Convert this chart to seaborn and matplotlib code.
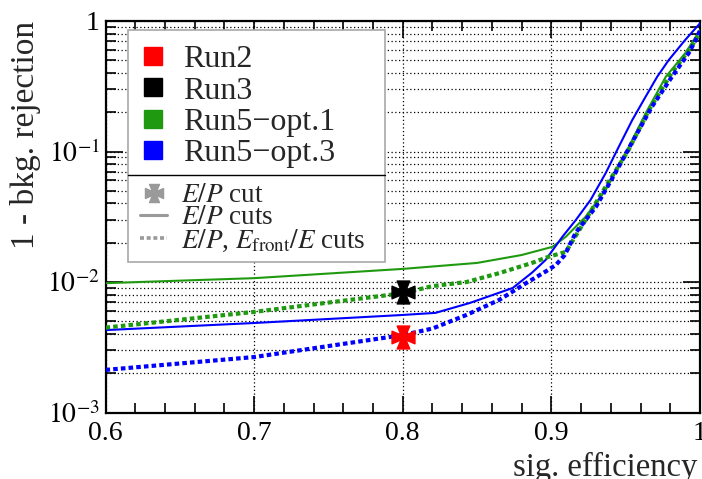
import numpy as np
import pandas as pd
import matplotlib
matplotlib.use("Agg")
import matplotlib.pyplot as plt
import seaborn as sns
from matplotlib.path import Path
from matplotlib.lines import Line2D
from matplotlib.patches import Rectangle
from matplotlib.ticker import MultipleLocator, LogLocator, FixedLocator, FixedFormatter, NullFormatter

# ---------------- data ----------------
opt1_cuts_x = [0.60, 0.70, 0.80, 0.85, 0.88, 0.9007, 0.9097, 0.923, 0.9365, 0.950, 0.9634, 0.977, 0.990, 1.0]
opt1_cuts_y = [0.0098, 0.0107, 0.0126, 0.0140, 0.0161, 0.0186, 0.0222, 0.0316, 0.0507, 0.097, 0.196, 0.374, 0.565, 0.85]

opt3_cuts_x = [0.60, 0.70, 0.80, 0.822, 0.845, 0.874, 0.887, 0.896, 0.9074, 0.9164, 0.9264, 0.9365, 0.9454, 0.9544, 0.9634, 0.9712, 0.979, 0.990, 1.0]
opt3_cuts_y = [0.00428, 0.00485, 0.00559, 0.0058, 0.0069, 0.0090, 0.0118, 0.0147, 0.0222, 0.0298, 0.0426, 0.0682, 0.109, 0.174, 0.263, 0.374, 0.503, 0.715, 0.96]

opt1_front_x = [0.60, 0.70, 0.80, 0.82, 0.843, 0.865, 0.887, 0.898, 0.9097, 0.923, 0.9365, 0.952, 0.9656, 0.981, 0.994, 1.0]
opt1_front_y = [0.00447, 0.0059, 0.0082, 0.0093, 0.0100, 0.0117, 0.0140, 0.0156, 0.0170, 0.0299, 0.0537, 0.103, 0.208, 0.40, 0.63, 0.81]

opt3_front_x = [0.60, 0.70, 0.80, 0.820, 0.843, 0.865, 0.883, 0.896, 0.903, 0.909, 0.9164, 0.930, 0.943, 0.954, 0.9676, 0.981, 0.9925, 0.998, 1.0]
opt3_front_y = [0.00212, 0.00266, 0.00392, 0.0044, 0.0056, 0.0073, 0.0098, 0.0120, 0.0135, 0.0161, 0.0239, 0.0377, 0.0684, 0.116, 0.22, 0.372, 0.57, 0.75, 0.85]

point_runs = ["Run2", "Run3"]
point_x = [0.80, 0.80]
point_y = [0.00381, 0.00843]

legend_runs = ["Run2", "Run3", "Run5\u2212opt.1", "Run5\u2212opt.3"]
legend_cuts = ["$E/P$ cut", "$E/P$ cuts", "$E/P$, $E_{\\mathrm{front}}/E$ cuts"]

x_ticks = [0.6, 0.7, 0.8, 0.9, 1.0]
x_tick_labels = ["0.6", "0.7", "0.8", "0.9", "1"]
y_ticks = [1e-3, 1e-2, 1e-1, 1.0]
y_tick_labels = ["$10^{-3}$", "$10^{-2}$", "$10^{-1}$", "1"]

# ---------------- style ----------------
sns.set_theme(style="ticks")
plt.rcParams["font.family"] = ["Liberation Serif", "DejaVu Serif"]
plt.rcParams["mathtext.fontset"] = "stix"

RED = "#ff0000"
BLACK = "#000000"
GREEN = "#1f9a10"
BLUE = "#0000ff"
GRAY = "#9a9a9a"

# Maltese-cross marker
a, b = 0.22, 0.55
cross_verts = [(-a, a), (-b, 1), (b, 1), (a, a), (1, b), (1, -b), (a, -a),
               (b, -1), (-b, -1), (-a, -a), (-1, -b), (-1, b), (-a, a)]
cross = Path(cross_verts, [Path.MOVETO] + [Path.LINETO] * 11 + [Path.CLOSEPOLY])

fig = plt.figure(figsize=(7.02, 4.79), dpi=100)
W, H = 702, 479
L, R, T, B = 105.5, 700, 21, 412.5
ax = fig.add_axes([L / W, (H - B) / H, (R - L) / W, (B - T) / H])
ax.set_facecolor("white")

dotted = (0, (1.1, 0.75))
series = [
    (opt1_cuts_x, opt1_cuts_y, GREEN, "-", 1.5),
    (opt3_cuts_x, opt3_cuts_y, BLUE, "-", 1.5),
    (opt1_front_x, opt1_front_y, GREEN, dotted, 3.0),
    (opt3_front_x, opt3_front_y, BLUE, dotted, 3.0),
]
for xs, ys, col, ls, lw in series:
    df = pd.DataFrame({"x": xs, "y": ys})
    sns.lineplot(data=df, x="x", y="y", ax=ax, color=col, linestyle=ls, linewidth=lw,
                 estimator=None, sort=False, zorder=3)

for name, px, py in zip(point_runs, point_x, point_y):
    col = RED if name == "Run2" else BLACK
    ax.plot([px], [py], marker=cross, markersize=16.5, color=col, linestyle="none", zorder=5)

ax.set_yscale("log")
ax.set_xlim(0.6, 1.0)
ax.set_ylim(1e-3, 1.0)

ax.xaxis.set_major_locator(FixedLocator(x_ticks))
ax.xaxis.set_major_formatter(FixedFormatter(x_tick_labels))
ax.xaxis.set_minor_locator(MultipleLocator(0.02))
ax.yaxis.set_major_locator(FixedLocator(y_ticks))
ax.yaxis.set_major_formatter(FixedFormatter(y_tick_labels))
ax.yaxis.set_minor_locator(LogLocator(base=10, subs=np.arange(2, 10)))
ax.yaxis.set_minor_formatter(NullFormatter())

gridstyle = dict(color="black", linestyle=(0, (1, 2)), linewidth=0.9)
ax.grid(True, axis="x", which="major", **gridstyle)
ax.grid(True, axis="y", which="both", **gridstyle)
ax.set_axisbelow(True)

ax.tick_params(which="both", direction="in", top=True, right=True, colors="black", width=1.2)
ax.tick_params(which="major", length=12, labelsize=20, pad=6)
ax.tick_params(which="minor", length=7)
ax.tick_params(axis="y", which="major", pad=4)
for s in ax.spines.values():
    s.set_linewidth(1.6)
    s.set_color("black")

ax.set_xlabel("sig. efficiency", fontsize=23.5, loc="right")
ax.xaxis.set_label_coords(0.995, -0.102)
ax.set_ylabel("1 - bkg. rejection", fontsize=24, loc="top")
ax.yaxis.set_label_coords(-0.108, 1.0)

# ---------------- legend ----------------
def fx(px):
    return (px - L) / (R - L)

def fy(py):
    return 1 - (py - T) / (B - T)

box = Rectangle((fx(128), fy(262)), fx(385) - fx(128), fy(30) - fy(262), transform=ax.transAxes,
                facecolor="white", edgecolor="#a8a8a8", linewidth=1.2, zorder=6)
ax.add_patch(box)
ax.plot([fx(128), fx(385)], [fy(175), fy(175)], transform=ax.transAxes, color="black",
        linewidth=1.0, zorder=7)

run_colors = [RED, BLACK, GREEN, BLUE]
run_handles = [Line2D([], [], marker="s", markersize=13, color=c, linestyle="none") for c in run_colors]
leg1 = ax.legend(run_handles, legend_runs, loc="upper left", bbox_to_anchor=(fx(137), fy(45)),
                 frameon=False, fontsize=23, handlelength=1.0, handletextpad=0.45,
                 labelspacing=0.06, borderpad=0, borderaxespad=0)
leg1.set_zorder(8)
ax.add_artist(leg1)

cut_handles = [
    Line2D([], [], marker=cross, markersize=13, color=GRAY, linestyle="none"),
    Line2D([], [], color=GRAY, linewidth=2.2, linestyle="-"),
    Line2D([], [], color=GRAY, linewidth=2.6, linestyle=dotted),
]
leg2 = ax.legend(cut_handles, legend_cuts, loc="upper left", bbox_to_anchor=(fx(140), fy(183)),
                 frameon=False, fontsize=19.5, handlelength=1.0, handletextpad=0.5,
                 labelspacing=-0.1, borderpad=0, borderaxespad=0)
leg2.set_zorder(8)

fig.savefig("out.png", dpi=100)
